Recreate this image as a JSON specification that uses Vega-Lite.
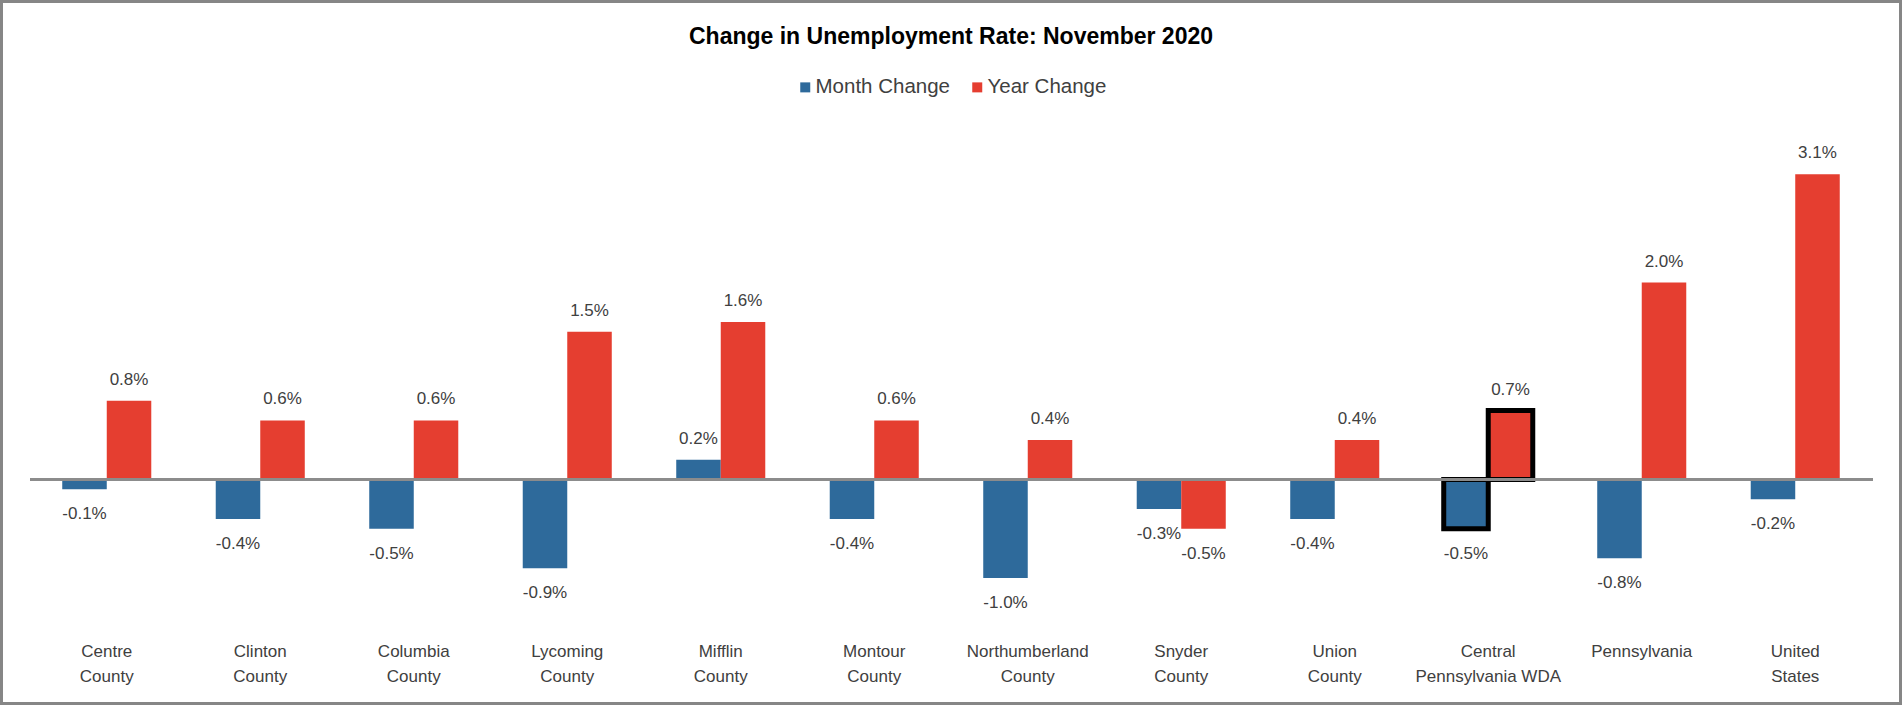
{
  "$schema": "https://vega.github.io/schema/vega-lite/v6.json",
  "width": 1902,
  "height": 705,
  "padding": 0,
  "autosize": {"type": "none"},
  "background": "white",
  "config": {
    "view": {"stroke": "#868686", "strokeWidth": 6},
    "font": "Liberation Sans",
    "locale": {"number": {"decimal": ".", "thousands": ",", "grouping": [3], "currency": ["$", ""], "minus": "-"}}
  },
  "title": {
    "text": "Change in Unemployment Rate: November 2020",
    "fontSize": 23,
    "font": "Liberation Sans",
    "fontWeight": "bold",
    "color": "#000000",
    "anchor": "middle",
    "offset": -49
  },
  "data": {
    "values": [
      {"region": "Centre County", "series": "Month Change", "value": -0.001},
      {"region": "Centre County", "series": "Year Change", "value": 0.008},
      {"region": "Clinton County", "series": "Month Change", "value": -0.004},
      {"region": "Clinton County", "series": "Year Change", "value": 0.006},
      {"region": "Columbia County", "series": "Month Change", "value": -0.005},
      {"region": "Columbia County", "series": "Year Change", "value": 0.006},
      {"region": "Lycoming County", "series": "Month Change", "value": -0.009},
      {"region": "Lycoming County", "series": "Year Change", "value": 0.015},
      {"region": "Mifflin County", "series": "Month Change", "value": 0.002},
      {"region": "Mifflin County", "series": "Year Change", "value": 0.016},
      {"region": "Montour County", "series": "Month Change", "value": -0.004},
      {"region": "Montour County", "series": "Year Change", "value": 0.006},
      {"region": "Northumberland County", "series": "Month Change", "value": -0.010},
      {"region": "Northumberland County", "series": "Year Change", "value": 0.004},
      {"region": "Snyder County", "series": "Month Change", "value": -0.003},
      {"region": "Snyder County", "series": "Year Change", "value": -0.005},
      {"region": "Union County", "series": "Month Change", "value": -0.004},
      {"region": "Union County", "series": "Year Change", "value": 0.004},
      {"region": "Central Pennsylvania WDA", "series": "Month Change", "value": -0.005},
      {"region": "Central Pennsylvania WDA", "series": "Year Change", "value": 0.007},
      {"region": "Pennsylvania", "series": "Month Change", "value": -0.008},
      {"region": "Pennsylvania", "series": "Year Change", "value": 0.020},
      {"region": "United States", "series": "Month Change", "value": -0.002},
      {"region": "United States", "series": "Year Change", "value": 0.031}
    ]
  },
  "layer": [
    {
      "mark": {"type": "bar", "stroke": "#000000"},
      "encoding": {
        "x": {
          "field": "region",
          "type": "nominal",
          "scale": {
            "domain": ["Centre County", "Clinton County", "Columbia County", "Lycoming County", "Mifflin County", "Montour County", "Northumberland County", "Snyder County", "Union County", "Central Pennsylvania WDA", "Pennsylvania", "United States"],
            "paddingInner": 0.42,
            "paddingOuter": 0.4055
          },
          "axis": {
            "title": null,
            "domain": false,
            "ticks": false,
            "grid": false,
            "labelFontSize": 17,
            "labelColor": "#404040",
            "labelFont": "Liberation Sans",
            "labelAngle": 0,
            "labelBaseline": "top",
            "labelPadding": 0,
            "labelLineHeight": 25,
            "labelLimit": 0,
            "offset": -62,
            "labelExpr": "datum.label == 'Central Pennsylvania WDA' ? ['Central', 'Pennsylvania WDA'] : split(datum.label, ' ')"
          }
        },
        "xOffset": {"field": "series", "type": "nominal", "scale": {"domain": ["Month Change", "Year Change"]}},
        "y": {
          "field": "value",
          "type": "quantitative",
          "scale": {"domain": [-0.02289, 0.04868], "nice": false},
          "axis": null
        },
        "color": {
          "field": "series",
          "type": "nominal",
          "scale": {"domain": ["Month Change", "Year Change"], "range": ["#2E6A9B", "#E53E30"]},
          "legend": {
            "title": null,
            "orient": "none",
            "legendX": 795,
            "legendY": 77,
            "direction": "horizontal",
            "symbolType": "square",
            "symbolSize": 100,
            "symbolStrokeWidth": 0,
            "labelFontSize": 20.5,
            "labelColor": "#404040",
            "labelFont": "Liberation Sans",
            "columnPadding": 17,
            "labelOffset": 0,
            "padding": 0
          }
        },
        "strokeWidth": {
          "condition": {"test": "datum.region === 'Central Pennsylvania WDA'", "value": 5},
          "value": 0
        }
      }
    },
    {
      "mark": {"type": "rule", "color": "#8C8C8C", "strokeWidth": 2},
      "encoding": {
        "x": {"datum": "Centre County", "type": "nominal", "bandPosition": -0.36},
        "x2": {"datum": "United States", "bandPosition": 1.37},
        "y": {"datum": 0, "type": "quantitative"}
      }
    },
    {
      "transform": [{"filter": "datum.value >= 0"}],
      "mark": {"type": "text", "baseline": "middle", "dy": -21, "fontSize": 17, "color": "#404040", "font": "Liberation Sans"},
      "encoding": {
        "x": {"field": "region", "type": "nominal"},
        "xOffset": {"field": "series", "type": "nominal"},
        "y": {"field": "value", "type": "quantitative"},
        "text": {"field": "value", "type": "quantitative", "format": ".1%"}
      }
    },
    {
      "transform": [{"filter": "datum.value < 0"}],
      "mark": {"type": "text", "baseline": "middle", "dy": 25, "fontSize": 17, "color": "#404040", "font": "Liberation Sans"},
      "encoding": {
        "x": {"field": "region", "type": "nominal"},
        "xOffset": {"field": "series", "type": "nominal"},
        "y": {"field": "value", "type": "quantitative"},
        "text": {"field": "value", "type": "quantitative", "format": ".1%"}
      }
    }
  ]
}
